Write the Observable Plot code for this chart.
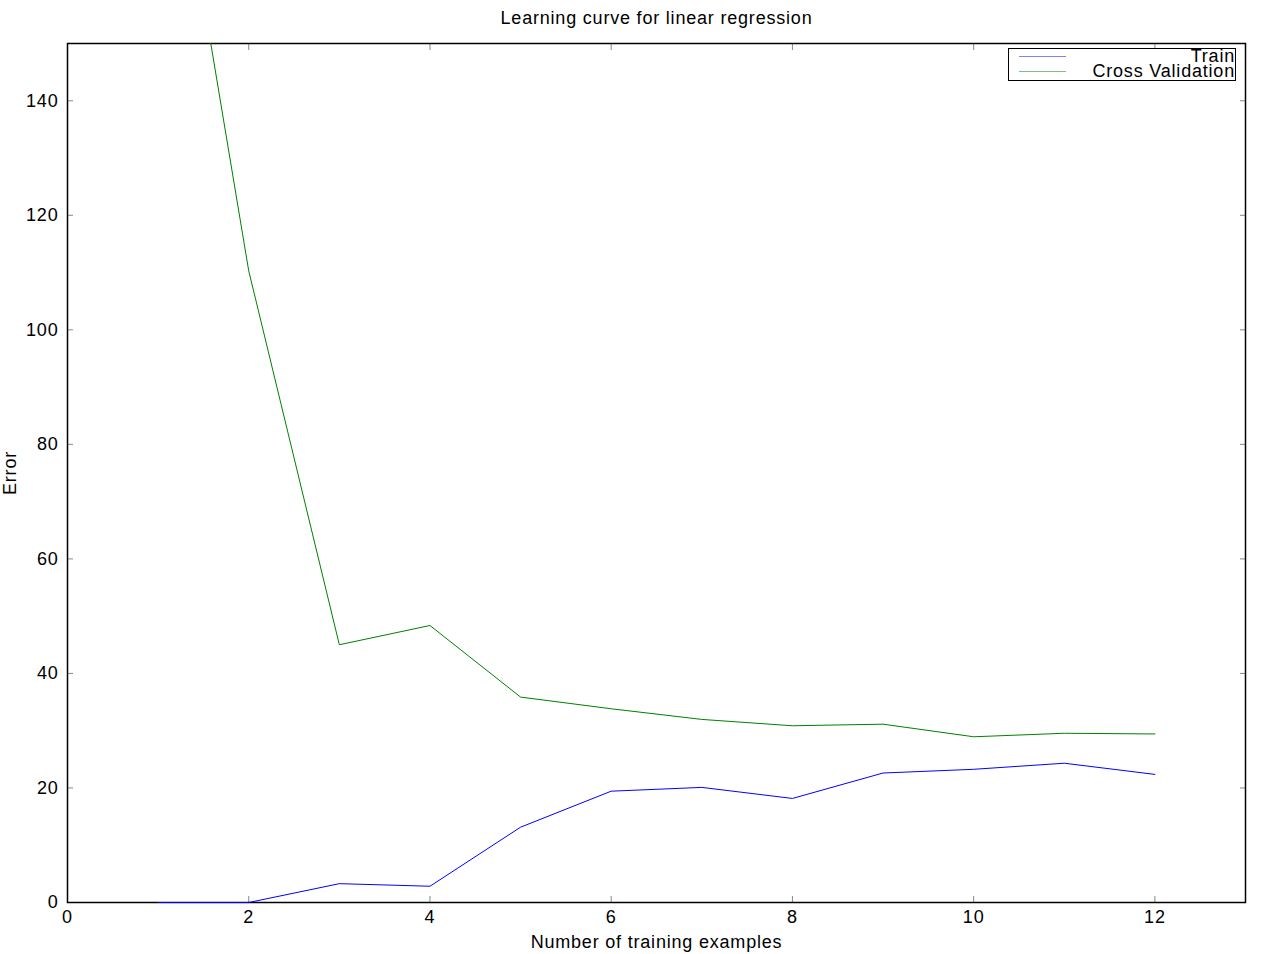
<!DOCTYPE html>
<html>
<head>
<meta charset="utf-8">
<script src="https://cdn.jsdelivr.net/npm/d3@7"></script>
<script src="https://cdn.jsdelivr.net/npm/@observablehq/plot@0.6"></script>
<style>
  body { margin: 0; background: #fff; font-family: "Liberation Sans", Arial, sans-serif; }
  #wrap { position: relative; width: 1266px; height: 954px; }
  #wrap svg { letter-spacing: 0.8px; }
  #legend { position: absolute; left: 1008px; top: 48px; width: 226px; height: 31px;
    border: 1.5px solid #000; background: #fff; font-size: 18px; letter-spacing: 0.8px; }
  .row { position: absolute; left: 0; right: 0; height: 15px; }
  .row .sw { position: absolute; left: 10px; width: 47px; top: 7px; height: 1.2px; }
  .row .lb { position: absolute; right: 0; top: 0; line-height: 15px; height: 15px; }
</style>
</head>
<body>
<div id="wrap"></div>
<script>
const examples = [1, 2, 3, 4, 5, 6, 7, 8, 9, 10, 11, 12];
const trainError = [0, 0, 3.29, 2.84, 13.15, 19.44, 20.10, 18.17, 22.61, 23.26, 24.32, 22.37];
const cvError = [205.12, 110.30, 45.01, 48.37, 35.87, 33.83, 31.97, 30.86, 31.14, 28.94, 29.55, 29.43];
const xTicks = [0, 2, 4, 6, 8, 10, 12];
const yTicks = [0, 20, 40, 60, 80, 100, 120, 140];
const seriesNames = ["Train", "Cross Validation"];
const seriesColors = ["#0000ff", "#008000"];
const legendColors = ["#7f7fff", "#7fbf7f"];

const train = examples.map((x, i) => ({x, y: trainError[i]}));
const cv = examples.map((x, i) => ({x, y: cvError[i]}));

const fontSize = 18;
const chart = Plot.plot({
  width: 1266,
  height: 954,
  marginTop: 43,
  marginBottom: 52,
  marginLeft: 67,
  marginRight: 21,
  style: {fontFamily: '"Liberation Sans", Arial, sans-serif', fontSize: fontSize + "px", background: "#fff", color: "#000"},
  x: {domain: [0, 13], ticks: xTicks},
  y: {domain: [0, 150], ticks: yTicks},
  marks: [
    Plot.axisX({anchor: "bottom", ticks: xTicks, tickSize: -6, tickPadding: 14, stroke: "#888", fill: "#000", label: null, fontSize: fontSize}),
    Plot.axisX({anchor: "top", ticks: xTicks, tickSize: -6, tickFormat: () => "", stroke: "#888", label: null}),
    Plot.axisY({anchor: "left", ticks: yTicks, tickSize: -6, tickPadding: 15, stroke: "#888", fill: "#000", label: null, fontSize: fontSize}),
    Plot.axisY({anchor: "right", ticks: yTicks, tickSize: -6, tickFormat: () => "", stroke: "#888", label: null}),
    Plot.frame({stroke: "#000", strokeWidth: 1.5}),
    Plot.line(cv, {x: "x", y: "y", stroke: seriesColors[1], strokeWidth: 1, clip: true}),
    Plot.line(train, {x: "x", y: "y", stroke: seriesColors[0], strokeWidth: 1}),
    Plot.text(["Learning curve for linear regression"], {frameAnchor: "top", lineAnchor: "middle", dy: -25, text: d => d, fontSize: fontSize, fill: "#000"}),
    Plot.text(["Number of training examples"], {frameAnchor: "bottom", lineAnchor: "middle", dy: 40, text: d => d, fontSize: fontSize, fill: "#000"}),
    Plot.text(["Error"], {frameAnchor: "left", textAnchor: "middle", lineAnchor: "middle", dx: -57, text: d => d, rotate: -90, fontSize: fontSize, fill: "#000"})
  ]
});
const wrap = document.getElementById("wrap");
wrap.appendChild(chart);

const legend = document.createElement("div");
legend.id = "legend";
seriesNames.forEach((name, i) => {
  const row = document.createElement("div");
  row.className = "row";
  row.style.top = (i * 15) + "px";
  const sw = document.createElement("div");
  sw.className = "sw";
  sw.style.background = legendColors[i];
  const lb = document.createElement("div");
  lb.className = "lb";
  lb.textContent = name;
  row.appendChild(sw);
  row.appendChild(lb);
  legend.appendChild(row);
});
wrap.appendChild(legend);
</script>
</body>
</html>
